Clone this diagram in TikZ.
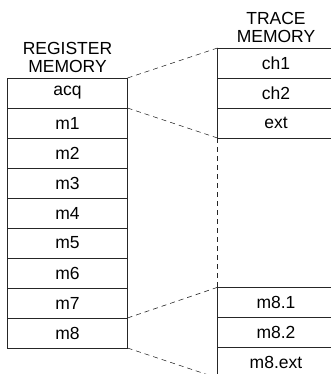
\documentclass[tikz,border=0pt]{standalone}
\usepackage{fontspec}
\setmainfont{Liberation Sans}
\begin{document}
\begin{tikzpicture}[x=1pt,y=-1pt,
  cell/.style={draw=black!85, line width=0.8pt, minimum width=120pt, minimum height=30pt,
    inner sep=0pt, outer sep=0pt, font=\fontsize{17.5}{17.5}\selectfont},
  tcell/.style={minimum width=117pt, minimum height=30pt,
    inner sep=0pt, outer sep=0pt, font=\fontsize{17.5}{17.5}\selectfont},
  hdr/.style={align=center, inner sep=0pt, font=\fontsize{17.5}{17.5}\selectfont},
  edge/.style={draw=black!85, line width=0.8pt},
  link/.style={draw=black!85, line width=0.6pt, dash pattern=on 5pt off 4pt}]
\useasboundingbox (0,0) rectangle (331,374);
\clip (0,0) rectangle (331,374);
% register memory
\foreach \t [count=\i from 0] in {acq,m1,m2,m3,m4,m5,m6,m7,m8}
  \node[cell] (r\i) at (67.5,{93+30*\i}) {\t};
\node[hdr, anchor=base] (rh) at (67.5,72.5) {REGISTER\\MEMORY};
% trace memory
\node[tcell] (t1) at (276,63) {ch1};
\node[tcell] (t2) at (276,93) {ch2};
\node[tcell] (t3) at (276,123) {ext};
\node[tcell] (u1) at (276,302.3) {m8.1};
\node[tcell] (u2) at (276,332.3) {m8.2};
\node[tcell] (u3) at (276,362.3) {m8.ext};
\node[hdr, anchor=base] (th) at (276,42.3) {TRACE\\MEMORY};
\draw[edge] (t1.north east) -- (t1.north west) -- (t3.south west) -- (t3.south east);
\draw[edge] (t1.south west) -- (t1.south east);
\draw[edge] (t2.south west) -- (t2.south east);
\draw[edge] (u1.north east) -- (u1.north west) -- (u3.south west);
\draw[edge] (u1.south west) -- (u1.south east);
\draw[edge] (u2.south west) -- (u2.south east);
% links
\coordinate (bend) at (217.5,378);
\draw[link] (r0.north east) -- (t1.north west);
\draw[link] (r0.south east) -- (t3.south west);
\draw[link] (t3.south west) -- (u1.north west);
\draw[link] (r7.south east) -- (u1.north west);
\draw[link] (r8.south east) -- (bend);
\end{tikzpicture}
\end{document}
